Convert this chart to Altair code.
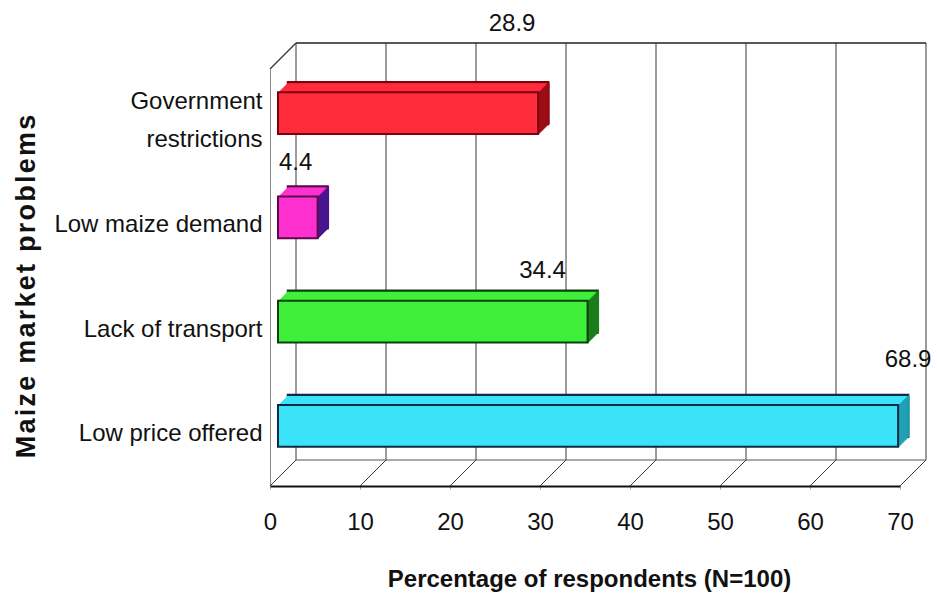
import altair as alt
import pandas as pd

# Share of respondents (N=100) naming each maize marketing problem
categories = ["Government restrictions", "Low maize demand",
              "Lack of transport", "Low price offered"]
percent = [28.9, 4.4, 34.4, 68.9]
ticks = [0, 10, 20, 30, 40, 50, 60, 70]

# face, side and edge colours of the boxes, one per problem
front_colors = ["#ff2b3b", "#ff30d0", "#3ef03a", "#3ae3f7"]
side_colors = ["#9a0a14", "#4a1490", "#1b7d1b", "#1f9fb2"]
edge_colors = ["#7a0010", "#5a0a4a", "#0f3d0f", "#0b2a45"]

# pixel nudges (dx, dy) for each value label
label_nudge = {
    "Government restrictions": (-18, -97),
    "Low maize demand": (-14, -62),
    "Lack of transport": (-37, -59),
    "Low price offered": (18, -74),
}

W, H = 630, 417          # front plane of the plot box
WALL = 26                # depth of the back wall (px, 45 degrees)
SET_BACK = 8             # boxes sit this far behind the front plane
BAR_DEPTH = 10           # depth of each box
FONT = "Liberation Sans, Arial, sans-serif"


def spaced(text):
    """Letter-spaced version of a title using hair spaces."""
    return "\u200a".join(text)


df = pd.DataFrame({"problem": categories, "pct": percent})
grid_df = pd.DataFrame({"t": ticks})
frame_df = pd.DataFrame({"k": [0]})

x_scale = alt.Scale(domain=[0, 70], nice=False, zero=True)
y_scale = alt.Scale(domain=categories, paddingInner=0.6, paddingOuter=0.3)

x_axis = alt.Axis(
    values=ticks, grid=False, labelFlush=False,
    title="Percentage of respondents (N=100)",
    titleFont=FONT, titleFontWeight="bold", titleFontSize=24,
    titleColor="#111", titleY=93, titleX=319, titleBaseline="middle",
    labelFont=FONT, labelFontSize=24, labelColor="#111",
    labelPadding=33, labelBaseline="middle",
    tickSize=3, tickColor="#aaa", domainColor="#111", domainWidth=2,
)
y_axis = alt.Axis(
    grid=False, ticks=False, domainColor="#8a8a8a", domainWidth=1,
    title=spaced("Maize market problems"),
    titleFont=FONT, titleFontWeight="bold", titleFontSize=27,
    titleColor="#111", titleAngle=270, titleX=-244, titleY=217,
    titleAlign="center", titleBaseline="middle",
    labelFont=FONT, labelFontSize=24, labelColor="#111",
    labelPadding=8, labelLineHeight=38, labelLimit=400,
    labelExpr="datum.label == 'Government restrictions' ? "
              "['Government', 'restrictions'] : datum.label",
    labelOffset={"condition": {"test": "datum.value == 'Government restrictions'",
                               "value": -19},
                 "value": 0},
)


def X(field):
    return alt.X(field, type="quantitative", scale=x_scale, axis=x_axis)


Y = alt.Y("problem:N", scale=y_scale, axis=y_axis)

fill_enc = alt.Fill("problem:N", legend=None,
                    scale=alt.Scale(domain=categories, range=front_colors))
stroke_enc = alt.Stroke("problem:N", legend=None,
                        scale=alt.Scale(domain=categories, range=edge_colors))
side_enc = alt.Color("problem:N", legend=None,
                     scale=alt.Scale(domain=categories, range=side_colors))

layers = []

# back wall: gridlines, top edge and floor edge
grid = alt.Chart(grid_df)
layers.append(grid.mark_rule(color="#3a3a3a", strokeWidth=1, xOffset=WALL).encode(
    x=X("t"), y=alt.value(-WALL), y2=alt.value(H - WALL)))
# floor: diagonal lines from each front tick to the back wall
layers.append(grid.mark_rule(color="#3a3a3a", strokeWidth=1, x2Offset=WALL).encode(
    x=X("t"), x2=alt.X2("t"), y=alt.value(H), y2=alt.value(H - WALL)))

frame = alt.Chart(frame_df)
layers.append(frame.mark_rule(color="#222", strokeWidth=1.5).encode(
    x=alt.value(WALL), x2=alt.value(W + WALL), y=alt.value(-WALL)))
layers.append(frame.mark_rule(color="#555", strokeWidth=1).encode(
    x=alt.value(WALL), x2=alt.value(W + WALL), y=alt.value(H - WALL)))
layers.append(frame.mark_rule(color="#333", strokeWidth=1.2).encode(
    x=alt.value(0), x2=alt.value(WALL), y=alt.value(0), y2=alt.value(-WALL)))


def shifted_bar(k, **mark):
    off = SET_BACK + k
    return alt.Chart(df).mark_bar(xOffset=off, x2Offset=off,
                                  yOffset=-off, y2Offset=-off, **mark)


# back face outline of each box
layers.append(shifted_bar(BAR_DEPTH, strokeWidth=2.5).encode(
    x=X("pct"), y=Y, fill=fill_enc, stroke=stroke_enc))
# body of the box (top face)
for k in range(BAR_DEPTH - 1, 0, -1):
    layers.append(shifted_bar(k, strokeWidth=0).encode(
        x=X("pct"), y=Y, fill=fill_enc))
# darker right-hand side face
for k in range(0, BAR_DEPTH + 1):
    off = SET_BACK + k
    layers.append(alt.Chart(df).mark_bar(
        xOffset=off, x2Offset=off + 1.5, yOffset=-off, y2Offset=-off,
        strokeWidth=0).encode(
        x=X("pct"), x2=alt.X2("pct"), y=Y, color=side_enc))
# front face
layers.append(shifted_bar(0, strokeWidth=2).encode(
    x=X("pct"), y=Y, fill=fill_enc, stroke=stroke_enc))

# value labels
for cat in categories:
    dx, dy = label_nudge[cat]
    layers.append(alt.Chart(df).transform_filter(
        alt.datum.problem == cat).mark_text(
        dx=dx, dy=dy, font=FONT, fontSize=24, color="#111",
        align="center", baseline="middle").encode(
        x=X("pct"), y=Y, text=alt.Text("pct:Q", format=".1f")))

chart = alt.layer(*layers).properties(
    width=W, height=H,
    padding={"left": 270, "top": 69, "right": 37, "bottom": 110},
    autosize=alt.AutoSizeParams(type="none"),
    background="white",
).configure_view(strokeWidth=0)

chart.save("out.html", embed_options={"renderer": "svg", "actions": False})
